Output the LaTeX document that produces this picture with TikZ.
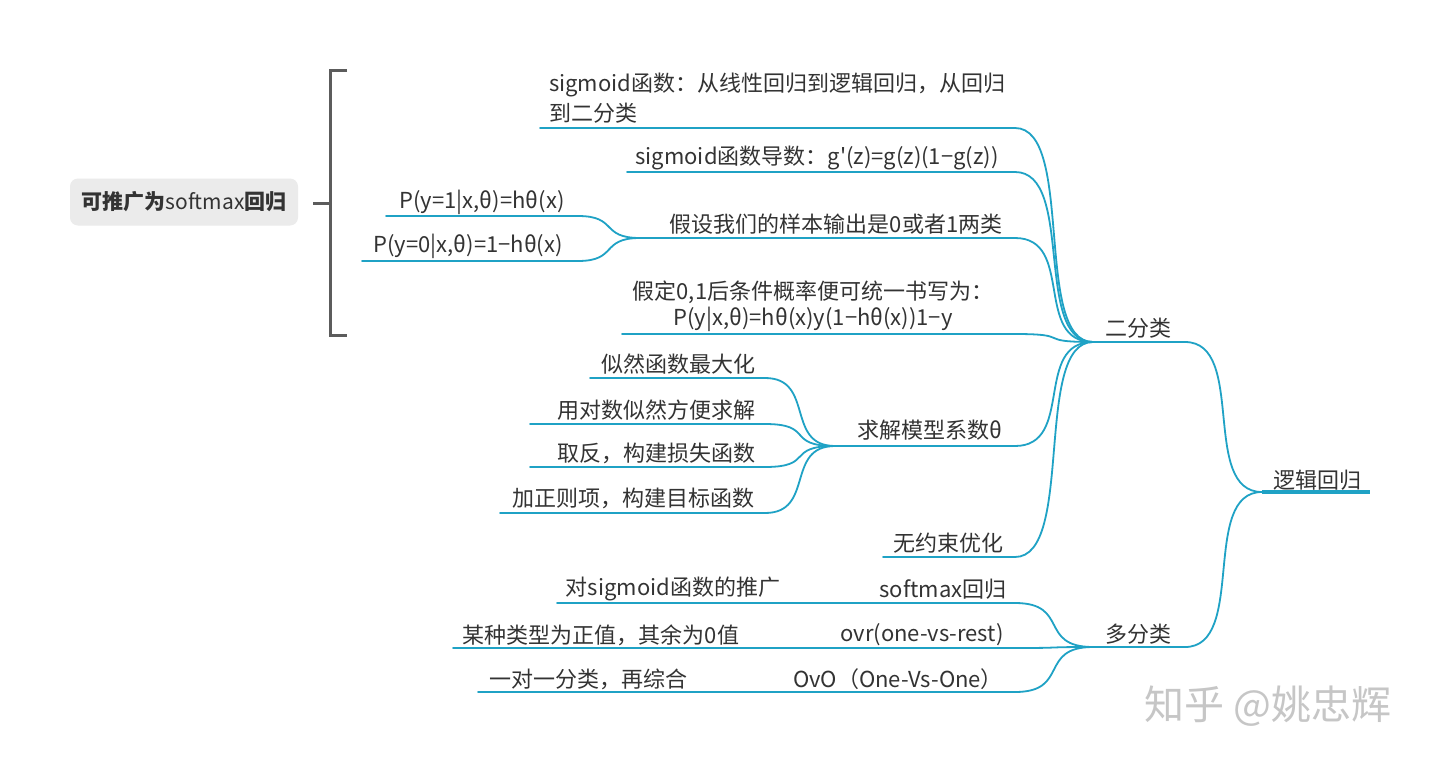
\documentclass[tikz,border=0pt]{standalone}
\usepackage{fontspec}
\setmainfont{Noto Sans CJK SC}
\newfontfamily\nomapfont{Noto Sans CJK SC}
\definecolor{linec}{HTML}{1FA2C5}
\definecolor{txt}{HTML}{333333}
\definecolor{brk}{HTML}{5C5C5C}
\definecolor{boxf}{HTML}{EBEBEB}
\definecolor{wm}{HTML}{C6C6C6}
\begin{document}
\begin{tikzpicture}[x=1pt,y=-1pt,
  lbl/.style={text=txt, font=\fontsize{22}{26}\selectfont, inner sep=0pt},
  uline/.style={draw=linec, line width=1.8pt, line cap=round},
  conn/.style={draw=linec, line width=1.8pt, line cap=round},
  rootline/.style={draw=linec, line width=4pt},
  brace/.style={draw=brk, line width=3pt},
  sumbox/.style={fill=boxf, rounded corners=8pt, minimum width=228pt, minimum height=47pt, inner sep=0pt, text=txt, font=\fontsize{21}{25}\selectfont},
  wmark/.style={text=wm, font=\fontsize{40}{44}\selectfont, inner sep=0pt}]
\useasboundingbox (0,0) rectangle (1440,763);
\fill[white] (0,0) rectangle (1440,763);

% ---------- root ----------
\node[lbl] (troot) at (1317,480) {逻辑回归};
\coordinate (Rl) at (1262,492);
\coordinate (Rr) at (1370,492);
\draw[rootline] (Rl) -- (Rr);

% ---------- level 1 ----------
\node[lbl] (tB) at (1138,328) {二分类};
\coordinate (Bl) at (1093,342);
\coordinate (Br) at (1185,342);
\draw[uline] (Bl) -- (Br);
\node[lbl] (tM) at (1138,634) {多分类};
\coordinate (Ml) at (1093,647);
\coordinate (Mr) at (1185,647);
\draw[uline] (Ml) -- (Mr);
\draw[conn] (Br) .. controls +(62,0) and +(-62,0) .. (Rl);
\draw[conn] (Mr) .. controls +(62,0) and +(-62,0) .. (Rl);

% ---------- children of 二分类 ----------
\node[lbl, anchor=west] (tc1a) at (549,85) {sigmoid函数：从线性回归到逻辑回归，从回归};
\node[lbl, anchor=west] (tc1b) at (549,113) {到二分类};
\coordinate (c1l) at (540,128);
\coordinate (c1r) at (1015,128);
\draw[uline] (c1l) -- (c1r);

\node[lbl] (tc2) at (817,158) {sigmoid函数导数：g{\nomapfont '}(z)=g(z)(1−g(z))};
\coordinate (c2l) at (627,172);
\coordinate (c2r) at (1015,172);
\draw[uline] (c2l) -- (c2r);

\node[lbl] (tc3) at (836,224) {假设我们的样本输出是0或者1两类};
\coordinate (c3l) at (640,238);
\coordinate (c3r) at (1015,238);
\draw[uline] (c3l) -- (c3r);

\node[lbl] (tc4a) at (813,292) {假定0,1后条件概率便可统一书写为：};
\node[lbl] (tc4b) at (813,319) {P(y|x,θ)=hθ(x)y(1−hθ(x))1−y};
\coordinate (c4l) at (622,334);
\coordinate (c4r) at (1015,334);
\draw[uline] (c4l) -- (c4r);

\node[lbl] (tc5) at (930,430) {求解模型系数θ};
\coordinate (c5l) at (835,446);
\coordinate (c5r) at (1015,446);
\draw[uline] (c5l) -- (c5r);

\node[lbl] (tc6) at (948,543) {无约束优化};
\coordinate (c6l) at (883,557);
\coordinate (c6r) at (1015,557);
\draw[uline] (c6l) -- (c6r);

\foreach \c in {c1r,c2r,c3r,c4r,c5r,c6r}
  \draw[conn] (\c) .. controls +(60,0) and +(-60,0) .. (Bl);

% children of 假设...
\node[lbl] (tc3a) at (482,202) {P(y=1|x,θ)=hθ(x)};
\coordinate (c3al) at (386,216);
\coordinate (c3ar) at (578,216);
\draw[uline] (c3al) -- (c3ar);
\node[lbl] (tc3b) at (468,246) {P(y=0|x,θ)=1−hθ(x)};
\coordinate (c3bl) at (362,261);
\coordinate (c3br) at (578,261);
\draw[uline] (c3bl) -- (c3br);
\draw[conn] (c3ar) .. controls +(40,0) and +(-40,0) .. (c3l);
\draw[conn] (c3br) .. controls +(40,0) and +(-40,0) .. (c3l);

% children of 求解模型系数θ
\node[lbl] (tc5a) at (678,364) {似然函数最大化};
\coordinate (c5al) at (590,378);
\coordinate (c5ar) at (765,378);
\node[lbl] (tc5b) at (656,410) {用对数似然方便求解};
\coordinate (c5bl) at (530,424);
\coordinate (c5br) at (765,424);
\node[lbl] (tc5c) at (656,453) {取反，构建损失函数};
\coordinate (c5cl) at (530,467);
\coordinate (c5cr) at (765,467);
\node[lbl] (tc5d) at (633,498) {加正则项，构建目标函数};
\coordinate (c5dl) at (500,513);
\coordinate (c5dr) at (765,513);
\foreach \a in {a,b,c,d}{
  \draw[uline] (c5\a l) -- (c5\a r);
  \draw[conn] (c5\a r) .. controls +(50,0) and +(-50,0) .. (c5l);
}

% ---------- children of 多分类 ----------
\node[lbl] (tm1) at (943,589) {softmax回归};
\coordinate (m1l) at (870,603);
\coordinate (m1r) at (1015,603);
\node[lbl] (tm2) at (922,635) {ovr(one-vs-rest)};
\coordinate (m2l) at (840,648);
\coordinate (m2r) at (1015,648);
\node[lbl] (tm3) at (898,679) {OvO（One-Vs-One）};
\coordinate (m3l) at (780,692);
\coordinate (m3r) at (1015,692);
\foreach \m in {m1,m2,m3}{
  \draw[uline] (\m l) -- (\m r);
  \draw[conn] (\m r) .. controls +(55,0) and +(-55,0) .. (Ml);
}

\node[lbl] (tm1a) at (673,589) {对sigmoid函数的推广};
\coordinate (m1al) at (557,603);
\coordinate (m1ar) at (790,603);
\node[lbl] (tm2a) at (601,635) {某种类型为正值，其余为0值};
\coordinate (m2al) at (453,648);
\coordinate (m2ar) at (750,648);
\node[lbl] (tm3a) at (588,679) {一对一分类，再综合};
\coordinate (m3al) at (478,692);
\coordinate (m3ar) at (700,692);
\draw[uline] (m1al) -- (m1ar);
\draw[uline] (m2al) -- (m2ar);
\draw[uline] (m3al) -- (m3ar);
\draw[conn] (m1ar) -- (m1l);
\draw[conn] (m2ar) -- (m2l);
\draw[conn] (m3ar) -- (m3l);

% ---------- summary ----------
\node[sumbox] (sum) at (184,202) {\bfseries 可推广为\mdseries softmax\bfseries 回归};
\coordinate (bt) at (347,70);
\coordinate (btc) at (330,70);
\coordinate (bbc) at (330,335);
\coordinate (bb) at (347,335);
\coordinate (bm) at (330,203);
\coordinate (bk) at (313,203);
\draw[brace] (bt) -- (btc) -- (bbc) -- (bb);
\draw[brace] (bk) -- (bm);

% ---------- watermark ----------
\node[wmark] (wm) at (1268,706) {知乎 @姚忠辉};
\end{tikzpicture}
\end{document}
